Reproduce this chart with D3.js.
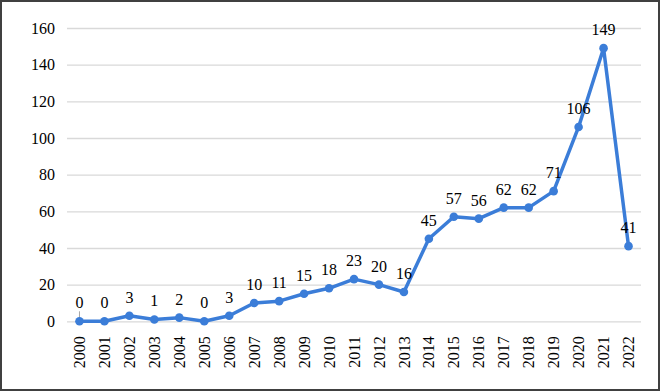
<!DOCTYPE html>
<html>
<head>
<meta charset="utf-8">
<script src="https://cdn.jsdelivr.net/npm/d3@7"></script>
</head>
<body style="margin:0;background:#fff">
<svg id="svg" width="661" height="392" font-family="Liberation Serif, DejaVu Serif, serif"></svg>
<script>
const years = ["2000","2001","2002","2003","2004","2005","2006","2007","2008","2009","2010",
  "2011","2012","2013","2014","2015","2016","2017","2018","2019","2020","2021","2022"];
const counts = [0, 0, 3, 1, 2, 0, 3, 10, 11, 15, 18, 23, 20, 16, 45, 57, 56, 62, 62, 71, 106, 149, 41];
const yTicks = [0, 20, 40, 60, 80, 100, 120, 140, 160];

const FONT = "Liberation Serif, DejaVu Serif, serif";
const W = 661, H = 392,
    x = d3.scaleBand().domain(years).range([67, 641]),
    y = d3.scaleLinear().domain([0, 160]).range([321.3, 28]);

const svg = d3.select("#svg");
svg.append("rect").attr("x", 1).attr("y", 1).attr("width", W - 3).attr("height", H - 3)
    .attr("fill", "#fff").attr("stroke", "#404040").attr("stroke-width", 2);

// gridlines + y labels
const yAxis = svg.append("g").attr("transform", "translate(67,0)")
    .call(d3.axisLeft(y).tickValues(yTicks).tickSize(-(641 - 67)).tickPadding(12));
yAxis.attr("font-family", FONT).attr("font-size", 16);
yAxis.select(".domain").remove();
yAxis.selectAll(".tick line").attr("stroke", "#d9d9d9").attr("stroke-width", 1.3);
yAxis.selectAll(".tick text").attr("fill", "#000").attr("font-family", FONT);

// x labels
const xAxis = svg.append("g").attr("transform", "translate(0," + y(0) + ")")
    .call(d3.axisBottom(x).tickSize(0));
xAxis.attr("font-family", FONT).attr("font-size", 16);
xAxis.select(".domain").remove();
xAxis.selectAll(".tick text")
    .attr("fill", "#000").attr("font-family", FONT)
    .attr("transform", "rotate(-90)")
    .attr("text-anchor", "end").attr("x", -15).attr("y", 0).attr("dy", "0.35em");

const cx = d => x(d) + x.bandwidth() / 2;
const pts = years.map((d, i) => [cx(d), y(counts[i])]);

// small leader line for first label
svg.append("line").attr("x1", pts[0][0]).attr("x2", pts[0][0])
    .attr("y1", pts[0][1] - 10).attr("y2", pts[0][1]).attr("stroke", "#a6a6a6").attr("stroke-width", 1);

svg.append("path").attr("d", d3.line()(pts)).attr("fill", "none")
    .attr("stroke", "#3b7dd8").attr("stroke-width", 3.5).attr("stroke-linejoin", "round");

svg.selectAll("circle.pt").data(pts).join("circle").attr("class", "pt")
    .attr("cx", d => d[0]).attr("cy", d => d[1]).attr("r", 4.3).attr("fill", "#3b7dd8");

svg.selectAll("text.lbl").data(counts).join("text").attr("class", "lbl")
    .attr("x", (d, i) => pts[i][0]).attr("y", (d, i) => pts[i][1] - 13)
    .attr("text-anchor", "middle").attr("font-size", 16).attr("font-family", FONT)
    .text(d => d);
</script>
</body>
</html>
